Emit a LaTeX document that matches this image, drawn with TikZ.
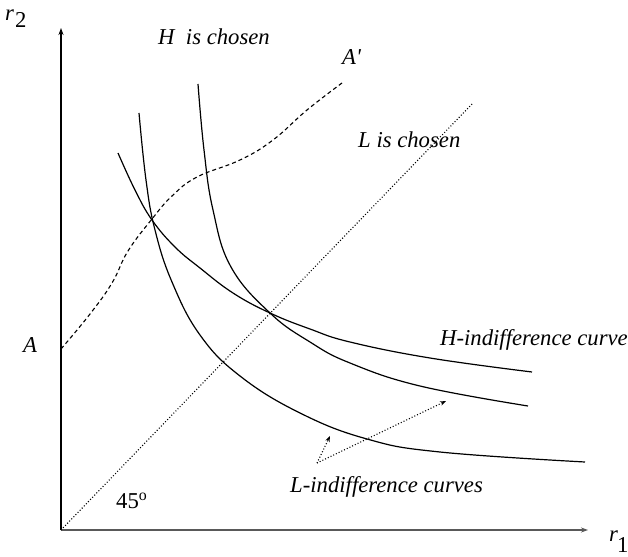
\documentclass[tikz,border=0pt]{standalone}
\usepackage{fontspec}
\setmainfont{Liberation Serif}[Ligatures=TeXOff]
\usetikzlibrary{arrows.meta}
\begin{document}
\begin{tikzpicture}[x=1pt,y=-1pt,
  lbl/.style={anchor=base west,inner sep=0pt,font=\fontsize{22.7}{26}\selectfont\itshape},
  lblup/.style={anchor=base west,inner sep=0pt,font=\fontsize{22.7}{26}\selectfont},
  axis/.style={line width=1.1pt,-{Stealth[length=7pt,width=5pt]}},
  curve/.style={line width=1.2pt},
  dashcurve/.style={line width=1.1pt,dash pattern=on 4pt off 3pt},
  dotline/.style={line width=1.1pt,dash pattern=on 1pt off 2pt},
  dotarrow/.style={line width=1.1pt,dash pattern=on 1pt off 2pt,-{Stealth[length=6pt,width=4.5pt]}}]
\useasboundingbox (0,0) rectangle (628,556);
% axes
\coordinate (O) at (61,530);
\coordinate (ytop) at (61,28);
\coordinate (xend) at (588,530);
\draw[axis] (O) -- (ytop);
\draw[axis,draw=black!65,fill=black!65] (O) -- (xend);
% 45 degree line
\coordinate (d45) at (473,103);
\draw[dotline] (O) -- (d45);
% dashed curve A - A'
\draw[dashcurve] plot[smooth,tension=0.7] coordinates {(61,349) (90,314) (112,283) (128,251) (152,219) (172,196) (197,177) (240,160) (273,140) (307,110) (342,83)};
% L-indifference curve 1
\draw[curve] plot[smooth,tension=0.7] coordinates {(139,113) (146,180) (155,230) (172,282) (200,335) (240,376) (300,413) (367,439) (440,452) (585,462)};
% L-indifference curve 2
\draw[curve] plot[smooth,tension=0.7] coordinates {(198,84) (204,150) (213,210) (231,267) (270,313) (310,342) (350,363) (420,386) (528,406)};
% H-indifference curve
\draw[curve] plot[smooth,tension=0.7] coordinates {(118,153) (135,190) (152,220) (175,247) (200,268) (233,293) (270,313) (310,329) (350,342) (430,358) (532,372)};
% dotted arrows
\coordinate (src) at (317,463);
\coordinate (t1) at (330,436);
\coordinate (t2) at (446,401);
\draw[dotarrow] (src) -- (t1);
\draw[dotarrow] (src) -- (t2);
% labels
\node[lbl] (r2) at (5,21) {r};
\node[lblup] (r2s) at (15,28) {2};
\node[lbl] (r1) at (609,541) {r};
\node[lblup] (r1s) at (617,552) {1};
\node[lbl] (hch) at (158,45) {H\ \ is chosen};
\node[lbl] (ap) at (342,65) {A'};
\node[lbl] (lch) at (358,148) {L is chosen};
\node[lbl] (A) at (23,352) {A};
\node[lbl] (hic) at (440,345) {H-indifference curve};
\node[lbl] (lic) at (290,492) {L-indifference curves};
\node[lblup] (deg) at (116,508) {45\textsuperscript{o}};
\end{tikzpicture}
\end{document}
